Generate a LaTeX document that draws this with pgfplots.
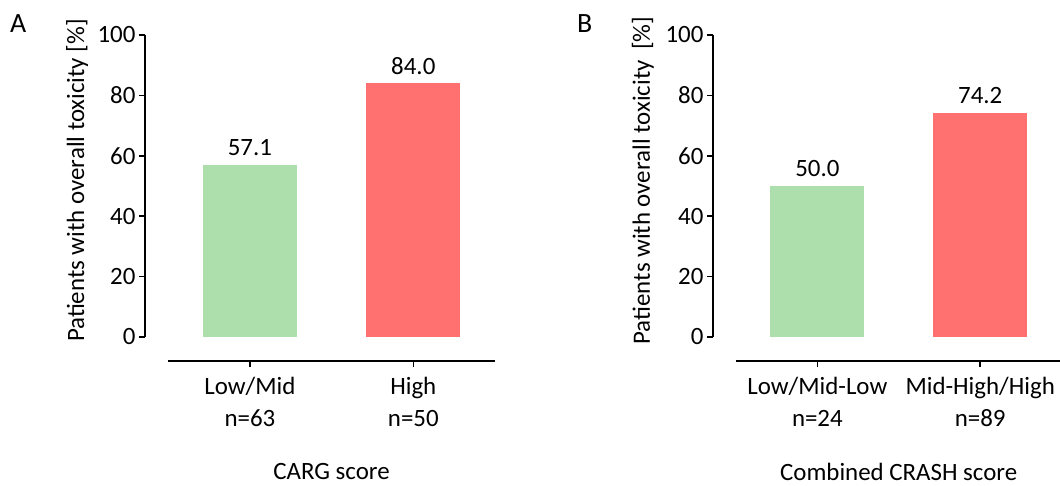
\documentclass[border=0pt]{standalone}
\usepackage{pgfplots}
\pgfplotsset{compat=1.18}
\usepackage{fontspec}
\setmainfont{Carlito}
\definecolor{barG}{RGB}{173,223,173}
\definecolor{barR}{RGB}{255,112,112}
\pgfplotstableread{
x y
0 57.1
}\carglow
\pgfplotstableread{
x y
1 84.0
}\carghigh
\pgfplotstableread{
x y
0 50.0
}\crashlow
\pgfplotstableread{
x y
1 74.2
}\crashhigh
\pgfplotsset{
 panel/.style={
  scale only axis, height=302bp, ymin=0, ymax=100, ytick={0,20,...,100},
  axis lines=left, axis line style={-, line width=1.6bp},
  x axis line style={draw=none}, xtick style={draw=none},
  ytick style={line width=1.6bp, black}, tick align=outside, major tick length=6bp,
  xtick={0,1}, clip=false,
  tick label style={font=\fontsize{25}{32}\selectfont},
  xticklabel style={font=\fontsize{25}{32}\selectfont, align=center, yshift=-31bp},
  ylabel style={font=\fontsize{25}{30}\selectfont, anchor=center},
  xlabel style={font=\fontsize{25}{30}\selectfont, anchor=center},
  /pgf/number format/assume math mode=true,
  ybar, bar width=94bp,
  nodes near coords,
  nodes near coords style={font=\fontsize{25}{30}\selectfont, anchor=center, yshift=17bp,
    /pgf/number format/.cd, fixed, fixed zerofill, precision=1, assume math mode=true},
 }
}
\begin{document}
\begin{tikzpicture}
\path[use as bounding box] (0,0) rectangle (1060bp,486bp);
\node[font=\fontsize{28}{30}\selectfont, anchor=base west, inner sep=0pt] at (10bp,453bp) {A};
\node[font=\fontsize{28}{30}\selectfont, anchor=base west, inner sep=0pt] at (577bp,453bp) {B};
\begin{axis}[panel, at={(145bp,149bp)}, anchor=south west, width=350bp,
  xmin=-0.642, xmax=1.5,
  xticklabels={{Low/Mid\\n=63}, {High\\n=50}},
  ylabel={Patients with overall toxicity [\%]},
  ylabel style={at={(axis description cs:-0.194,0.518)}},
  xlabel={CARG score},
  xlabel style={at={(axis description cs:0.533,-0.447)}}]
\addplot[fill=barG, draw=none, bar shift=0pt] table[x=x,y=y] {\carglow};
\addplot[fill=barR, draw=none, bar shift=0pt] table[x=x,y=y] {\carghigh};
\draw[line width=1.6bp] ([yshift=-24bp]axis cs:-0.5,0) -- ([yshift=-24bp]axis cs:1.5,0);
\draw[line width=1.6bp] ([yshift=-24bp]axis cs:0,0) -- ([yshift=-30bp]axis cs:0,0);
\draw[line width=1.6bp] ([yshift=-24bp]axis cs:1,0) -- ([yshift=-30bp]axis cs:1,0);
\end{axis}
\begin{axis}[panel, at={(713bp,149bp)}, anchor=south west, width=347bp,
  xmin=-0.641, xmax=1.49,
  xticklabels={{Low/Mid-Low\\n=24}, {Mid-High/High\\n=89}},
  ylabel={Patients with overall toxicity\hspace{5bp} [\%]},
  ylabel style={at={(axis description cs:-0.202,0.518)}},
  xlabel={Combined CRASH score},
  xlabel style={at={(axis description cs:0.535,-0.447)}}]
\addplot[fill=barG, draw=none, bar shift=0pt] table[x=x,y=y] {\crashlow};
\addplot[fill=barR, draw=none, bar shift=0pt] table[x=x,y=y] {\crashhigh};
\draw[line width=1.6bp] ([yshift=-24bp]axis cs:-0.5,0) -- ([yshift=-24bp]axis cs:1.49,0);
\draw[line width=1.6bp] ([yshift=-24bp]axis cs:0,0) -- ([yshift=-30bp]axis cs:0,0);
\draw[line width=1.6bp] ([yshift=-24bp]axis cs:1,0) -- ([yshift=-30bp]axis cs:1,0);
\end{axis}
\end{tikzpicture}
\end{document}
